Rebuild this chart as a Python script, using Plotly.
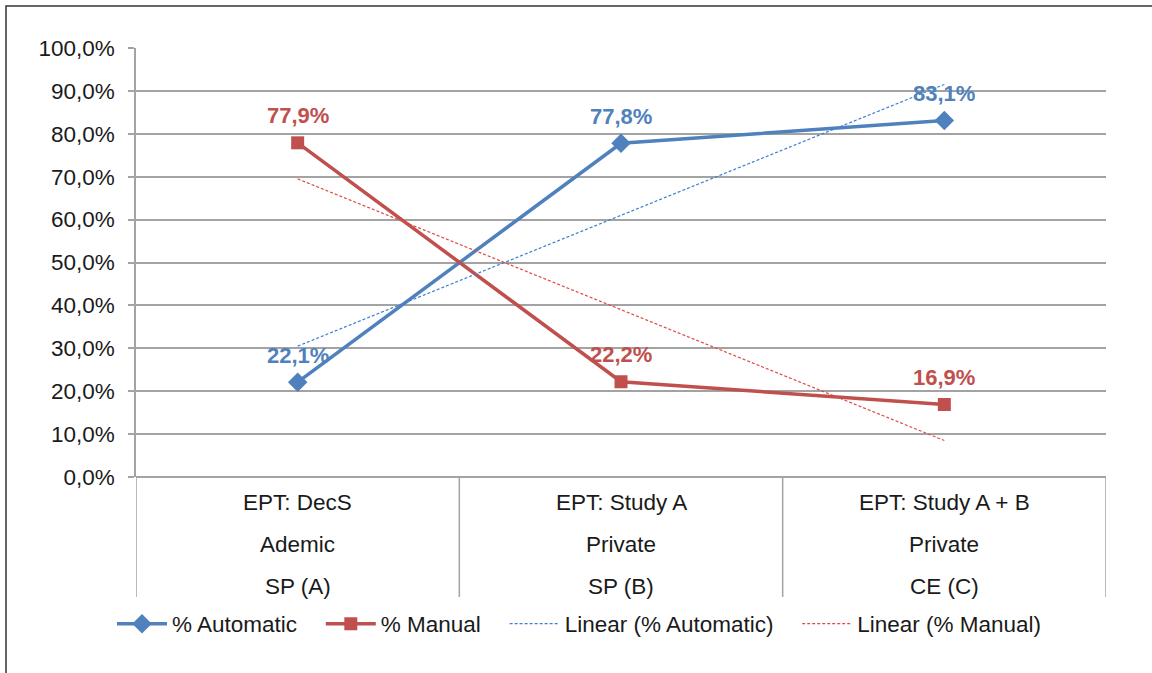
import numpy as np
import plotly.graph_objects as go

# --- data -------------------------------------------------------------
categories = [
    ["EPT: DecS", "Ademic", "SP (A)"],
    ["EPT: Study A", "Private", "SP (B)"],
    ["EPT: Study A + B", "Private", "CE (C)"],
]
automatic = [22.1, 77.8, 83.1]
manual = [77.9, 22.2, 16.9]
y_ticks = [0, 10, 20, 30, 40, 50, 60, 70, 80, 90, 100]

BLUE = "#4F81BD"
RED = "#C0504D"
GRID = "#A3A3A3"
TEXT = "#1a1a1a"
FONT = "Liberation Sans, Arial, sans-serif"
FS = 22.5
PAD = "\u00a0" * 3  # extra room between legend entries

W, H = 1152, 673
L, R, T, B = 136, 46, 48, 196
PW, PH = W - L - R, H - T - B


def px_x(px):
    return (px - L) / PW


def px_y(py):
    return (H - B - py) / PH


def pct(v):
    return f"{v:.1f}%".replace(".", ",")


x = np.arange(len(categories))

# least-squares trend lines over the category index
auto_fit = np.polyval(np.polyfit(x, automatic, 1), x)
man_fit = np.polyval(np.polyfit(x, manual, 1), x)

fig = go.Figure()
fig.add_trace(go.Scatter(
    x=x, y=automatic, name="% Automatic" + PAD, mode="lines+markers",
    line=dict(color=BLUE, width=3.5),
    marker=dict(symbol="diamond", size=15, color=BLUE),
))
fig.add_trace(go.Scatter(
    x=x, y=manual, name="% Manual" + PAD, mode="lines+markers",
    line=dict(color=RED, width=3.5),
    marker=dict(symbol="square", size=13, color=RED),
))
fig.add_trace(go.Scatter(
    x=x, y=auto_fit, name="Linear (% Automatic)" + PAD, mode="lines",
    line=dict(color="#3F7FD0", width=1.2, dash="3px,2px"),
))
fig.add_trace(go.Scatter(
    x=x, y=man_fit, name="Linear (% Manual)", mode="lines",
    line=dict(color="#E04A44", width=1.2, dash="3px,2px"),
))

annotations = []
# value labels above each point
for series, color in ((automatic, BLUE), (manual, RED)):
    for i, v in enumerate(series):
        annotations.append(dict(
            x=i, y=v, xref="x", yref="y", text=pct(v), showarrow=False,
            yanchor="middle", yshift=27,
            font=dict(family=FONT, size=22, color=color, weight="bold"),
        ))

# three-line category labels under the axis
for i, lines in enumerate(categories):
    for j, txt in enumerate(lines):
        annotations.append(dict(
            x=i, y=0, xref="x", yref="paper", text=txt, showarrow=False,
            yanchor="middle", yshift=-25 - 42 * j,
            font=dict(family=FONT, size=FS, color=TEXT),
        ))

shapes = []
# category dividers extending below the axis
for b in (-0.5, 0.5, 1.5, 2.5):
    shapes.append(dict(
        type="line", xref="x", yref="paper", x0=b, x1=b,
        y0=0, y1=px_y(597), line=dict(color=GRID, width=1.5),
    ))
# outer chart frame
shapes.append(dict(
    type="rect", xref="paper", yref="paper",
    x0=px_x(6), x1=px_x(W + 10), y0=px_y(H + 10), y1=px_y(6),
    line=dict(color="#333333", width=1.5),
))

fig.update_layout(
    width=W, height=H, autosize=False,
    margin=dict(l=L, r=R, t=T, b=B),
    paper_bgcolor="white", plot_bgcolor="white",
    font=dict(family=FONT, size=FS, color=TEXT),
    showlegend=True,
    legend=dict(
        orientation="h", x=px_x(112), xanchor="left",
        y=px_y(624), yanchor="middle",
        font=dict(family=FONT, size=FS, color=TEXT),
        itemwidth=50, traceorder="normal",
        bgcolor="rgba(0,0,0,0)",
    ),
    xaxis=dict(
        range=[-0.5, 2.5], showgrid=False, zeroline=False,
        showticklabels=False, ticks="", showline=False, fixedrange=True,
    ),
    yaxis=dict(
        range=[0, 100], tickmode="array",
        tickvals=y_ticks, ticktext=[pct(v) for v in y_ticks],
        showgrid=True, gridcolor=GRID, gridwidth=1.5,
        zeroline=True, zerolinecolor=GRID, zerolinewidth=1.5,
        showline=True, linecolor=GRID, linewidth=1.5,
        ticks="outside", ticklen=6, tickcolor=GRID, tickwidth=1.5,
        ticklabelstandoff=9,
        tickfont=dict(family=FONT, size=FS, color=TEXT),
        fixedrange=True,
    ),
    annotations=annotations,
    shapes=shapes,
)

fig.write_html("out.html")
